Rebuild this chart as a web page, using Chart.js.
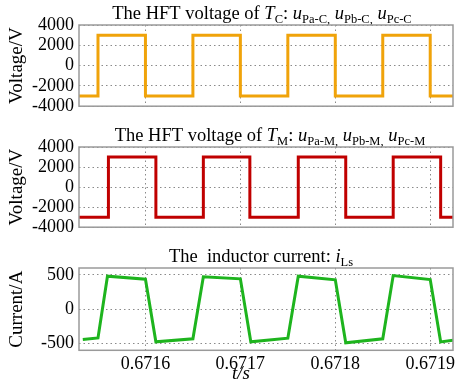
<!DOCTYPE html>
<html>
<head>
<meta charset="utf-8">
<script src="https://cdn.jsdelivr.net/npm/chart.js@4"></script>
<style>
  html, body { margin: 0; padding: 0; background: #fff; }
  body { width: 460px; height: 392px; position: relative; overflow: hidden; }
  .panel { position: absolute; left: 0; width: 460px; }
</style>
</head>
<body>
<div class="panel" id="p1" style="top:0px;height:122px;"><canvas id="c1"></canvas></div>
<div class="panel" id="p2" style="top:122px;height:121px;"><canvas id="c2"></canvas></div>
<div class="panel" id="p3" style="top:243px;height:149px;"><canvas id="c3"></canvas></div>
<script>
// ---- data ----
const X_MIN = 0.67153;
const X_MAX = 0.671924;
const X_TICKS = [0.6716, 0.6717, 0.6718, 0.6719];
const X_TICK_LABELS = ['0.6716', '0.6717', '0.6718', '0.6719'];

const V_TICKS = [-4000, -2000, 0, 2000, 4000];
const I_TICKS = [-500, 0, 500];

// HFT voltage of T_C (value holds from each time until the next)
const tC = [0.67153, 0.67155, 0.67160, 0.67165, 0.67170, 0.67175, 0.67180, 0.67185, 0.67190, 0.671924];
const uC = [-3000, 3000, -3000, 3000, -3000, 3000, -3000, 3000, -3000, -3000];

// HFT voltage of T_M
const tM = [0.67153, 0.671561, 0.671611, 0.671661, 0.671710, 0.671761, 0.671811, 0.671861, 0.671911, 0.671924];
const uM = [-3000, 3000, -3000, 3000, -3000, 3000, -3000, 3000, -3000, -3000];

// inductor current i_Ls
const tL = [0.671534, 0.67155, 0.67156, 0.67160, 0.671611, 0.67165, 0.671661, 0.67170, 0.671711,
            0.67175, 0.671761, 0.67180, 0.671811, 0.67185, 0.671861, 0.67190, 0.671911, 0.671924];
const iL = [-442, -419, 480, 436, -477, -433, 471, 442, -477,
            -423, 480, 427, -491, -433, 490, 432, -477, -452];

// ---- helpers ----
const SERIF = '"Liberation Serif", "Times New Roman", serif';

// step data: each value holds until the next time
function stepPts(xs, ys) {
  const out = [];
  for (let i = 0; i < xs.length; i++) {
    if (i > 0) out.push({x: xs[i], y: ys[i - 1]});
    out.push({x: xs[i], y: ys[i]});
  }
  return out;
}
const pts = (xs, ys) => xs.map((x, i) => ({x: x, y: ys[i]}));

function richTitle(segs, cx, baseline) {
  return {
    id: 'richTitle',
    afterDraw(chart) {
      const ctx = chart.ctx;
      ctx.save();
      ctx.fillStyle = '#000';
      ctx.textBaseline = 'alphabetic';
      ctx.textAlign = 'left';
      const fontOf = s => (s.it ? 'italic ' : '') + (s.sub ? '12.5px ' : '18.5px ') + SERIF;
      let w = 0;
      segs.forEach(s => { ctx.font = fontOf(s); w += ctx.measureText(s.t).width; });
      let x = cx - w / 2;
      segs.forEach(s => {
        ctx.font = fontOf(s);
        ctx.fillText(s.t, x, baseline + (s.sub ? 4 : 0));
        x += ctx.measureText(s.t).width;
      });
      ctx.restore();
    }
  };
}

const framePlugin = {
  id: 'frame',
  afterDraw(chart) {
    const a = chart.chartArea, ctx = chart.ctx;
    ctx.save();
    ctx.strokeStyle = '#9a9a9a';
    ctx.lineWidth = 1.5;
    ctx.strokeRect(a.left, a.top, a.right - a.left, a.bottom - a.top);
    ctx.restore();
  }
};

function yTitlePlugin(text) {
  return {
    id: 'yTitle',
    afterDraw(chart) {
      const a = chart.chartArea, ctx = chart.ctx;
      ctx.save();
      ctx.translate(17, (a.top + a.bottom) / 2);
      ctx.rotate(-Math.PI / 2);
      ctx.font = '19px ' + SERIF;
      ctx.fillStyle = '#000';
      ctx.textAlign = 'center';
      ctx.textBaseline = 'middle';
      ctx.fillText(text, 0, 0);
      ctx.restore();
    }
  };
}

const xLabelPlugin = {
  id: 'xLabel',
  afterDraw(chart) {
    const ctx = chart.ctx;
    ctx.save();
    ctx.font = 'italic 19px ' + SERIF;
    ctx.fillStyle = '#000';
    ctx.textAlign = 'center';
    ctx.textBaseline = 'alphabetic';
    ctx.fillText('t/s', 241, 379 - 243);
    ctx.restore();
  }
};

function makeChart(id, data, color, yMin, yMax, yTicks, showX, xAxisH, plugins) {
  return new Chart(document.getElementById(id), {
    type: 'line',
    data: { datasets: [{
      data: data, borderColor: color, borderWidth: 3, pointRadius: 0,
      fill: false, tension: 0, borderJoinStyle: 'miter'
    }]},
    options: {
      responsive: true, maintainAspectRatio: false, animation: false,
      layout: { padding: { top: 25, right: 7, left: 0, bottom: 0 } },
      plugins: { legend: { display: false }, tooltip: { enabled: false }, title: { display: false } },
      scales: {
        x: {
          type: 'linear', min: X_MIN, max: X_MAX,
          afterBuildTicks: s => { s.ticks = X_TICKS.map(v => ({ value: v })); },
          afterFit: s => { s.height = xAxisH; },
          grid: { color: '#8a8a8a', lineWidth: 1, drawTicks: false },
          border: { display: false, dash: [1.5, 3] },
          ticks: {
            display: showX, padding: 3, color: '#000', maxRotation: 0, autoSkip: false,
            font: { family: SERIF, size: 18 },
            callback: (v, i) => X_TICK_LABELS[i]
          }
        },
        y: {
          min: yMin, max: yMax,
          afterBuildTicks: s => { s.ticks = yTicks.map(v => ({ value: v })); },
          afterFit: s => { s.width = 79; },
          grid: { color: '#8a8a8a', lineWidth: 1, drawTicks: false },
          border: { display: false, dash: [1.5, 3] },
          ticks: {
            padding: 5, color: '#000', autoSkip: false, font: { family: SERIF, size: 18 },
            callback: v => String(v)
          }
        }
      }
    },
    plugins: plugins.concat([framePlugin])
  });
}

makeChart('c1', stepPts(tC, uC), '#f0a30a', -4000, 4000, V_TICKS, false, 14, [
  yTitlePlugin('Voltage/V'),
  richTitle([
    {t: 'The HFT voltage of '}, {t: 'T', it: true}, {t: 'C', sub: true}, {t: ': '},
    {t: 'u', it: true}, {t: 'Pa-C,', sub: true}, {t: ' '},
    {t: 'u', it: true}, {t: 'Pb-C,', sub: true}, {t: ' '},
    {t: 'u', it: true}, {t: 'Pc-C', sub: true}
  ], 262, 19)
]);

makeChart('c2', stepPts(tM, uM), '#c00000', -4000, 4000, V_TICKS, false, 13.7, [
  yTitlePlugin('Voltage/V'),
  richTitle([
    {t: 'The HFT voltage of '}, {t: 'T', it: true}, {t: 'M', sub: true}, {t: ': '},
    {t: 'u', it: true}, {t: 'Pa-M,', sub: true}, {t: ' '},
    {t: 'u', it: true}, {t: 'Pb-M,', sub: true}, {t: ' '},
    {t: 'u', it: true}, {t: 'Pc-M', sub: true}
  ], 270, 18.7)
]);

makeChart('c3', pts(tL, iL), '#1eb41e', -600, 600, I_TICKS, true, 41.7, [
  yTitlePlugin('Current/A'),
  xLabelPlugin,
  richTitle([
    {t: 'The  inductor current: '}, {t: 'i', it: true}, {t: 'Ls', sub: true}
  ], 261, 18.7)
]);
</script>
</body>
</html>
